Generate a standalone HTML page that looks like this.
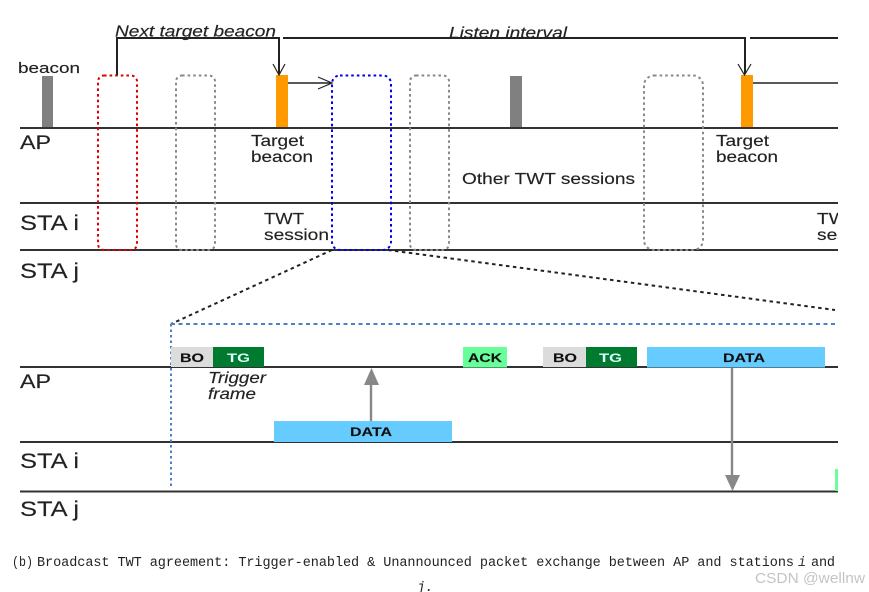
<!DOCTYPE html>
<html><head><meta charset="utf-8">
<style>
html,body{margin:0;padding:0;background:#fff;width:869px;height:592px;overflow:hidden}
svg{display:block}
text{font-family:"Liberation Sans",sans-serif;fill:#222;stroke:#222;stroke-width:.15}
.m{font-family:"Liberation Mono",monospace;font-size:13.500px;fill:#222;stroke-width:0}
.b{font-weight:bold;font-size:12px;fill:#111}
</style></head><body>
<svg width="869" height="592" viewBox="0 0 869 592" xmlns="http://www.w3.org/2000/svg">
<defs><filter id="bl" x="-2%" y="-2%" width="104%" height="104%"><feGaussianBlur stdDeviation="0.25"/></filter></defs>
<g filter="url(#bl)">
<!-- bars -->
<rect x="42" y="76" width="11" height="52" fill="#808080"/>
<rect x="510" y="76" width="12" height="52" fill="#808080"/>
<rect x="276" y="75" width="12" height="53" fill="#ff9900"/>
<rect x="741" y="75" width="12" height="53" fill="#ff9900"/>
<!-- main lines -->
<g stroke="#333" stroke-width="1.900" fill="none">
<path d="M20 128H838M20 203H838M20 250H838"/>
<path d="M20 367H838M20 442H838M20 491.500H838"/>
</g>
<!-- dashed sessions -->
<g fill="none" stroke-width="2" stroke-dasharray="2.600 3">
<rect x="98" y="75.500" width="39" height="174.500" rx="6" stroke="#dd0000"/>
<rect x="176" y="75.500" width="39" height="174.500" rx="6" stroke="#888"/>
<rect x="332" y="75.500" width="59" height="174.500" rx="8" stroke="#0000ee"/>
<rect x="410" y="75.500" width="39" height="174.500" rx="6" stroke="#888"/>
<rect x="644" y="75.500" width="59" height="174.500" rx="10" stroke="#888"/>
</g>
<!-- brackets and arrows -->
<g fill="none" stroke="#222" stroke-width="2">
<path d="M117 75V38H279V74"/>
<path d="M283 38H745V74"/>
<path d="M750 38H838"/>
<path d="M288 83H331" stroke-width="1.600"/>
<path d="M753 83H838" stroke-width="1.600"/>
<path d="M273 64L279 75L285 64" stroke-width="1.200"/>
<path d="M738 64L744.500 75L751 64" stroke-width="1.200"/>
<path d="M318 77L332 83L318 89" stroke-width="1.200"/>
</g>
<!-- zoom dashes -->
<g fill="none" stroke="#222" stroke-width="2" stroke-dasharray="3.500 3.500">
<path d="M332 250L171 324"/>
<path d="M388 250L835 310"/>
</g>
<g fill="none" stroke="#4f7fc6" stroke-width="2">
<path d="M171 324H838" stroke-dasharray="4 3.500"/>
<path d="M171 324V489" stroke-dasharray="2.500 3"/>
</g>
<!-- lower blocks -->
<rect x="171" y="347" width="43" height="20" fill="#dcdcdc"/>
<rect x="213" y="347" width="51" height="20" fill="#007a2e"/>
<rect x="274" y="421" width="178" height="21" fill="#66ccff"/>
<rect x="463" y="347" width="44" height="20.500" fill="#66ff99"/>
<rect x="543" y="347" width="43" height="20" fill="#dcdcdc"/>
<rect x="586" y="347" width="51" height="20" fill="#007a2e"/>
<rect x="647" y="347" width="178" height="20.500" fill="#66ccff"/>
<rect x="835" y="469" width="3" height="22" fill="#66ff99"/>
<!-- gray arrows -->
<path d="M371 421V384" stroke="#888" stroke-width="2.400" fill="none"/>
<path d="M364 385L371.500 368L379 385Z" fill="#888"/>
<path d="M732 368V475" stroke="#888" stroke-width="2.400" fill="none"/>
<path d="M725 475H740L732.500 491Z" fill="#888"/>
<!-- labels -->
<text x="18" y="73" font-size="15" textLength="62" lengthAdjust="spacingAndGlyphs">beacon</text>
<text x="115" y="36.500" font-size="16" font-style="italic" textLength="161" lengthAdjust="spacingAndGlyphs">Next target beacon</text>
<text x="449" y="38" font-size="16" font-style="italic" textLength="118" lengthAdjust="spacingAndGlyphs">Listen interval</text>
<text x="20" y="149" font-size="19" textLength="31" lengthAdjust="spacingAndGlyphs">AP</text>
<text x="20" y="230" font-size="21" textLength="59" lengthAdjust="spacingAndGlyphs" xml:space="preserve">STA i</text>
<text x="20" y="278" font-size="21" textLength="59" lengthAdjust="spacingAndGlyphs" xml:space="preserve">STA j</text>
<text x="251" y="146" font-size="16" textLength="53" lengthAdjust="spacingAndGlyphs">Target</text>
<text x="251" y="162" font-size="16" textLength="62" lengthAdjust="spacingAndGlyphs">beacon</text>
<text x="716" y="146" font-size="16" textLength="53" lengthAdjust="spacingAndGlyphs">Target</text>
<text x="716" y="162" font-size="16" textLength="62" lengthAdjust="spacingAndGlyphs">beacon</text>
<text x="264" y="224" font-size="16" textLength="40" lengthAdjust="spacingAndGlyphs">TWT</text>
<text x="264" y="240" font-size="16" textLength="65" lengthAdjust="spacingAndGlyphs">session</text>
<text x="462" y="184" font-size="16" textLength="173" lengthAdjust="spacingAndGlyphs">Other TWT sessions</text>
<svg x="817" y="205" width="21" height="45"><text transform="translate(0,19) scale(1.200,1)" font-size="16">TWT</text><text transform="translate(0,35) scale(1.200,1)" font-size="16">session</text></svg>
<text x="20" y="388" font-size="19" textLength="31" lengthAdjust="spacingAndGlyphs">AP</text>
<text x="20" y="468" font-size="21" textLength="59" lengthAdjust="spacingAndGlyphs" xml:space="preserve">STA i</text>
<text x="20" y="516" font-size="21" textLength="59" lengthAdjust="spacingAndGlyphs" xml:space="preserve">STA j</text>
<text x="208" y="383" font-size="16" font-style="italic" textLength="58" lengthAdjust="spacingAndGlyphs">Trigger</text>
<text x="208" y="399" font-size="16" font-style="italic" textLength="48" lengthAdjust="spacingAndGlyphs">frame</text>
<text x="180" y="362" class="b" textLength="24" lengthAdjust="spacingAndGlyphs">BO</text>
<text x="227" y="362" class="b" style="fill:#dff;stroke-width:0" textLength="23" lengthAdjust="spacingAndGlyphs">TG</text>
<text x="350" y="436" class="b" textLength="42" lengthAdjust="spacingAndGlyphs">DATA</text>
<text x="468" y="362" class="b" textLength="34" lengthAdjust="spacingAndGlyphs">ACK</text>
<text x="553" y="362" class="b" textLength="24" lengthAdjust="spacingAndGlyphs">BO</text>
<text x="599" y="362" class="b" style="fill:#dff;stroke-width:0" textLength="23" lengthAdjust="spacingAndGlyphs">TG</text>
<text x="723" y="362" class="b" textLength="42" lengthAdjust="spacingAndGlyphs">DATA</text>
</g>
<!-- caption -->
<text x="12" y="566" class="m" textLength="21" lengthAdjust="spacingAndGlyphs">(b)</text>
<text x="37" y="566" class="m" textLength="757" lengthAdjust="spacing">Broadcast TWT agreement: Trigger-enabled &amp; Unannounced packet exchange between AP and stations</text>
<text x="798" y="566" class="m" style="font-style:italic;fill:#334">i</text>
<text x="811" y="566" class="m" textLength="24" lengthAdjust="spacing">and</text>
<text x="417" y="591" class="m" style="font-style:italic">j.</text>
<text x="755" y="583" font-size="15" style="fill:#c4c4c4;stroke-width:0" textLength="110" lengthAdjust="spacingAndGlyphs">CSDN @wellnw</text>
</svg>
</body></html>
